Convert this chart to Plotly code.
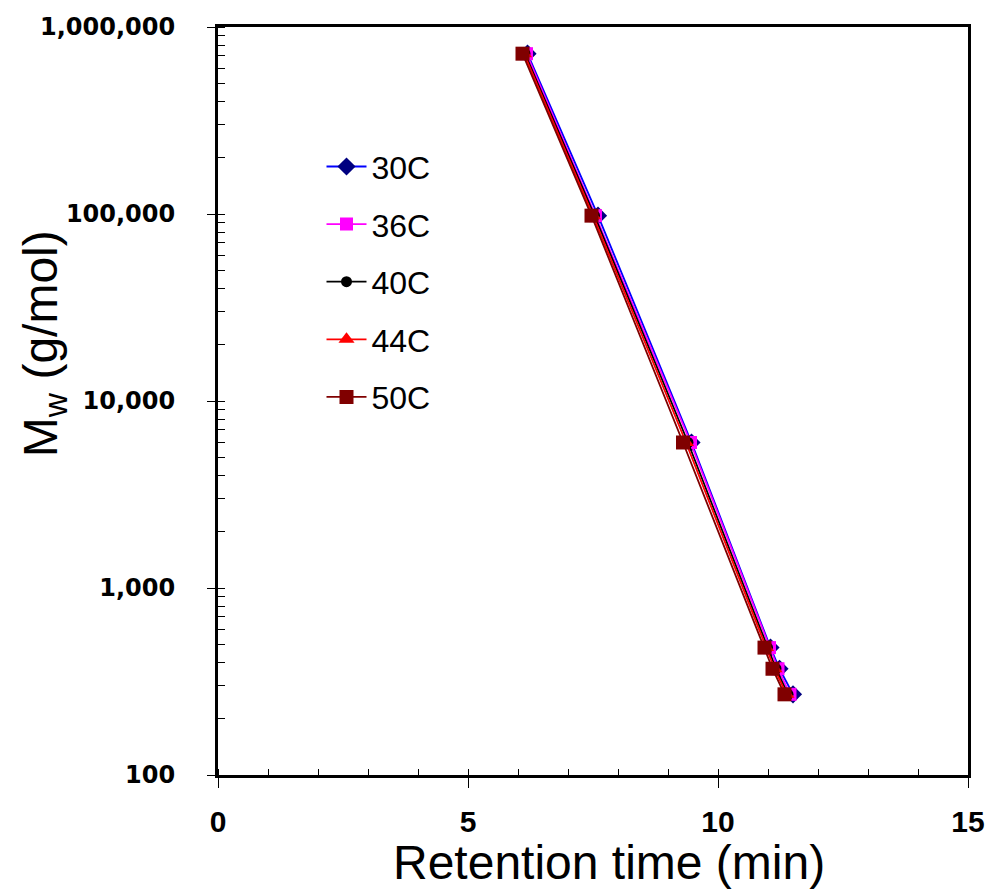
import plotly.graph_objects as go

# Data
labels = ["30C", "36C", "40C", "44C", "50C"]
mw = [720000, 98000, 6000, 480, 370, 270]
t_30 = [6.19, 7.60, 9.47, 11.05, 11.23, 11.50]
t_36 = [6.17, 7.55, 9.45, 11.03, 11.20, 11.44]
t_40 = [6.14, 7.53, 9.40, 10.99, 11.16, 11.40]
t_44 = [6.12, 7.50, 9.36, 10.96, 11.13, 11.37]
t_50 = [6.09, 7.47, 9.30, 10.93, 11.09, 11.33]
times = [t_30, t_36, t_40, t_44, t_50]

line_colors = ["#0000FF", "#FF00FF", "#000000", "#FF0000", "#800000"]
marker_colors = ["#000080", "#FF00FF", "#000000", "#FF0000", "#800000"]
symbols = ["diamond", "square", "circle", "triangle-up", "square"]
sizes = [14, 13, 11, 14, 14]

fig = go.Figure()
for i, lab in enumerate(labels):
    fig.add_trace(go.Scatter(
        x=times[i], y=mw, name=lab, mode="lines+markers",
        legendgroup=lab,
        line=dict(color=line_colors[i], width=1.8),
        marker=dict(symbol=symbols[i], size=sizes[i], color=marker_colors[i],
                    line=dict(width=0)),
    ))

fig.update_layout(
    width=992, height=889,
    margin=dict(l=218, r=24, t=27, b=114),
    paper_bgcolor="white", plot_bgcolor="white",
    font=dict(family="Liberation Sans, Arial", color="black"),
    showlegend=True,
    legend=dict(x=0.138, y=0.85, xanchor="left", yanchor="top",
                font=dict(size=32, family="Liberation Sans, Arial"),
                bgcolor="rgba(0,0,0,0)", tracegroupgap=13, itemwidth=40),
    xaxis=dict(
        range=[0, 15], dtick=5, tick0=0, automargin=False,
        showgrid=False, zeroline=False,
        showline=True, linecolor="black", linewidth=3, mirror=True,
        ticks="outside", ticklen=10, tickwidth=1, tickcolor="black",
        minor=dict(ticks="inside", ticklen=6, dtick=1, tickcolor="black", showgrid=False),
        tickfont=dict(size=30, family="Liberation Sans, Arial", weight="bold"),
        ticklabelstandoff=8,
    ),
    yaxis=dict(
        type="log", range=[2, 6], dtick=1, tickformat=",d", automargin=False,
        showgrid=False, zeroline=False,
        showline=True, linecolor="black", linewidth=3, mirror=True,
        ticks="outside", ticklen=8, tickwidth=1, tickcolor="black",
        minor=dict(ticks="inside", ticklen=7, tickcolor="black", showgrid=False),
        tickfont=dict(size=24, family="DejaVu Sans", weight="bold"),
        ticklabelstandoff=27,
    ),
    annotations=[
        dict(text="Retention time (min)", xref="paper", yref="paper",
             x=0.521, y=-0.117, xanchor="center", yanchor="middle",
             showarrow=False, font=dict(size=48, family="Liberation Sans, Arial")),
        dict(text="M<sub>w</sub> (g/mol)", xref="paper", yref="paper",
             x=-0.231, y=0.577, xanchor="center", yanchor="middle", textangle=-90,
             showarrow=False, font=dict(size=48, family="Liberation Sans, Arial")),
    ],
)

fig.write_html("out.html")
